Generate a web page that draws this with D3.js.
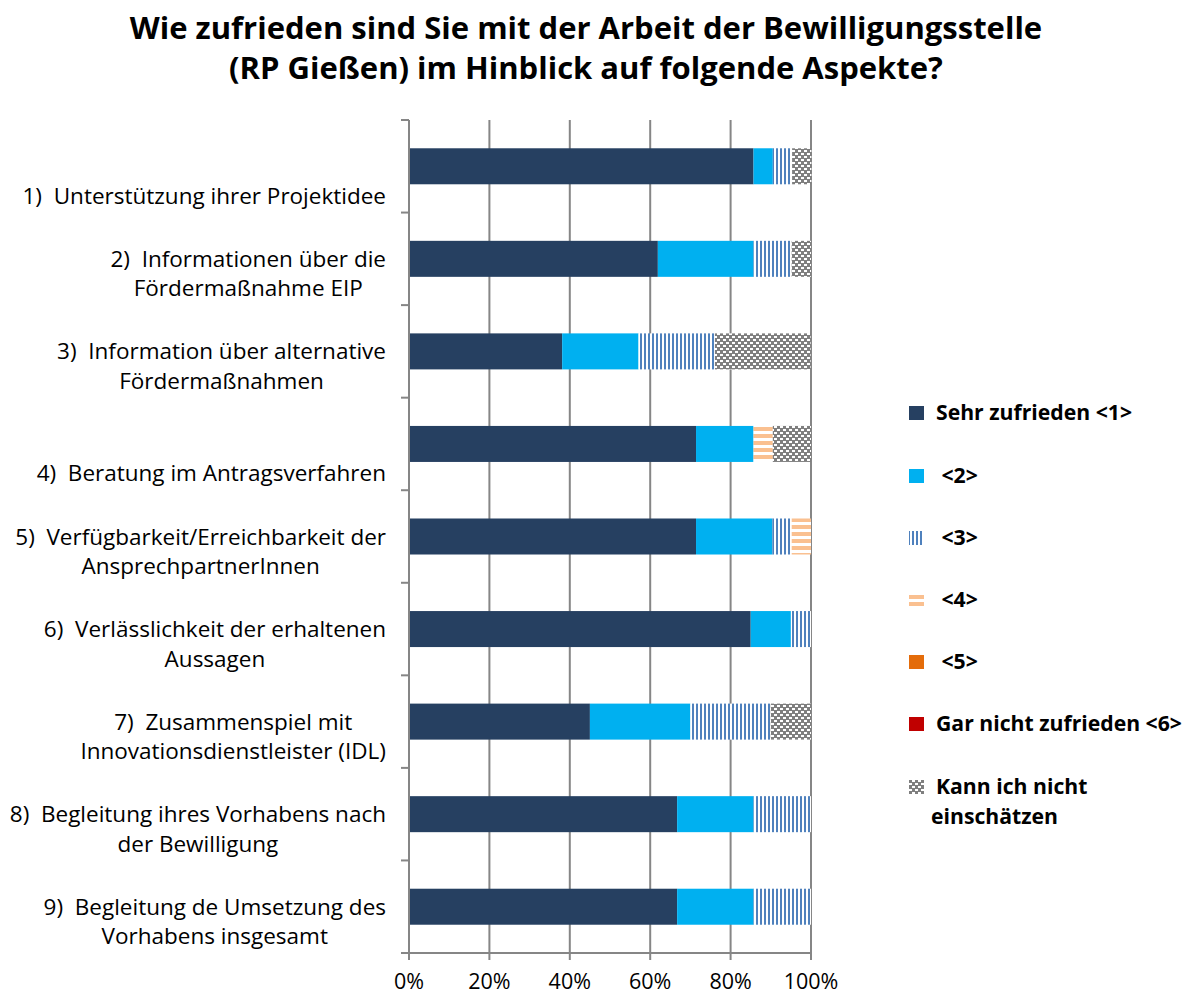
<!DOCTYPE html>
<html><head><meta charset="utf-8">
<script src="https://cdn.jsdelivr.net/npm/d3@7"></script>
<style>body{margin:0;background:#fff}svg{display:block}text{white-space:pre}</style>
</head><body>
<svg id="chart" width="1188" height="997"></svg>
<script>
const titleLines = ["Wie zufrieden sind Sie mit der Arbeit der Bewilligungsstelle", "(RP Gießen) im Hinblick auf folgende Aspekte?"];
const categories = [
  ["", "1)  Unterstützung ihrer Projektidee"],
  ["2)  Informationen über die", "Fördermaßnahme EIP"],
  ["3)  Information über alternative", "Fördermaßnahmen"],
  ["", "4)  Beratung im Antragsverfahren"],
  ["5)  Verfügbarkeit/Erreichbarkeit der", "AnsprechpartnerInnen"],
  ["6)  Verlässlichkeit der erhaltenen", "Aussagen"],
  ["7)  Zusammenspiel mit", "Innovationsdienstleister (IDL)"],
  ["8)  Begleitung ihres Vorhabens nach", "der Bewilligung"],
  ["9)  Begleitung de Umsetzung des", "Vorhabens insgesamt"]
];
const seriesNames = ["Sehr zufrieden <1>", " <2>", " <3>", " <4>", " <5>", "Gar nicht zufrieden <6>", "Kann ich nicht einschätzen"];
const s1 = [85.7, 61.9, 38.1, 71.4, 71.4, 85, 45, 66.7, 66.7];
const s2 = [4.8, 23.8, 19.0, 14.3, 19.0, 10, 25, 19.0, 19.0];
const s3 = [4.8, 9.5, 19.0, 0, 4.8, 5, 20, 14.3, 14.3];
const s4 = [0, 0, 0, 4.8, 4.8, 0, 0, 0, 0];
const s5 = [0, 0, 0, 0, 0, 0, 0, 0, 0];
const s6 = [0, 0, 0, 0, 0, 0, 0, 0, 0];
const s7 = [4.8, 4.8, 23.8, 9.5, 0, 0, 10, 0, 0];
const xTicks = [0, 20, 40, 60, 80, 100];

const seriesValues = [s1, s2, s3, s4, s5, s6, s7];
const fills = ["#264061", "#00B0F0", "url(#pV)", "url(#pH)", "#E46C0A", "#C00000", "url(#pG)"];

const svg = d3.select("#chart");
const FONT = "'Open Sans', Lato, sans-serif";
const L = 409, R = 811, T = 120, B = 953;

// patterns
const defs = svg.append("defs");
const pV = defs.append("pattern").attr("id", "pV").attr("patternUnits", "userSpaceOnUse").attr("width", 4).attr("height", 4);
pV.append("rect").attr("width", 4).attr("height", 4).attr("fill", "#fff");
pV.append("rect").attr("width", 2).attr("height", 4).attr("fill", "#4F81BD");
const pH = defs.append("pattern").attr("id", "pH").attr("patternUnits", "userSpaceOnUse").attr("width", 7).attr("height", 7);
pH.append("rect").attr("width", 7).attr("height", 7).attr("fill", "#fff");
pH.append("rect").attr("width", 7).attr("height", 4).attr("fill", "#FAC090");
const pG = defs.append("pattern").attr("id", "pG").attr("patternUnits", "userSpaceOnUse").attr("width", 6).attr("height", 6);
pG.append("rect").attr("width", 6).attr("height", 6).attr("fill", "#7F7F7F");
pG.append("rect").attr("x", 0).attr("y", 0).attr("width", 3).attr("height", 2).attr("fill", "#fff");
pG.append("rect").attr("x", 3).attr("y", 3).attr("width", 3).attr("height", 2).attr("fill", "#fff");

// title
svg.append("g").selectAll("text").data(titleLines).join("text")
  .attr("x", 586).attr("y", (d, i) => 39 + i * 40)
  .attr("text-anchor", "middle").attr("font-family", FONT).attr("font-weight", "bold")
  .attr("font-size", 31).attr("fill", "#000").text(d => d);

const x = d3.scaleLinear().domain([0, 100]).range([L, R]);
const y = d3.scaleBand().domain(d3.range(categories.length)).range([T, B]).paddingInner(0.611).paddingOuter(0.3055);
const step = (B - T) / categories.length;

// gridlines
const grid = svg.append("g");
grid.selectAll("line").data(xTicks.slice(1)).join("line")
  .attr("x1", d => x(d)).attr("x2", d => x(d)).attr("y1", T).attr("y2", B)
  .attr("stroke", "#868686").attr("stroke-width", 2);

// stacked bars
const table = categories.map((c, i) => {
  const o = {i};
  seriesValues.forEach((s, k) => o["s" + k] = s[i]);
  return o;
});
const keys = seriesValues.map((s, k) => "s" + k);
const stacked = d3.stack().keys(keys)(table);
svg.append("g").selectAll("g").data(stacked).join("g")
  .attr("fill", (d, k) => fills[k])
  .selectAll("rect").data(d => d).join("rect")
  .attr("x", d => x(d[0])).attr("width", d => Math.max(0, x(d[1]) - x(d[0])))
  .attr("y", d => y(d.data.i)).attr("height", y.bandwidth());

// left axis
const ax = svg.append("g").attr("stroke", "#868686").attr("stroke-width", 2);
ax.append("line").attr("x1", L).attr("x2", L).attr("y1", T).attr("y2", B);
ax.selectAll(".yt").data(d3.range(categories.length + 1)).join("line")
  .attr("x1", L - 8).attr("x2", L).attr("y1", i => T + i * step).attr("y2", i => T + i * step);
// bottom axis
ax.append("line").attr("x1", L - 8).attr("x2", R).attr("y1", B).attr("y2", B);
ax.selectAll(".xt").data(xTicks).join("line")
  .attr("x1", d => x(d)).attr("x2", d => x(d)).attr("y1", B).attr("y2", B + 7);

svg.append("g").selectAll("text").data(xTicks).join("text")
  .attr("x", d => x(d)).attr("y", 989).attr("text-anchor", "middle")
  .attr("font-family", FONT).attr("font-size", 21.5).attr("fill", "#000")
  .text(d => d + "%");

// category labels
const lab = svg.append("g").attr("font-family", FONT).attr("font-size", 22.5).attr("fill", "#000");
categories.forEach((lines, i) => {
  const cy = y(i) + y.bandwidth() / 2;
  const g = lab.append("g");
  const ts = g.selectAll("text").data(lines).join("text")
    .attr("y", (d, j) => cy + j * 29.5 + 8).attr("text-anchor", "middle").text(d => d);
  let w = 0; ts.each(function () { w = Math.max(w, this.getComputedTextLength()); });
  ts.attr("x", 386 - w / 2);
});

// legend
const legY = [413, 476, 538, 600, 662, 724, 787];
const leg = svg.append("g").attr("font-family", FONT).attr("font-weight", "bold").attr("font-size", 21.2).attr("fill", "#000");
seriesNames.forEach((n, k) => {
  leg.append("rect").attr("x", 909).attr("y", legY[k] - 7).attr("width", 15).attr("height", 14).attr("fill", fills[k]);
  if (k === 6) {
    leg.append("text").attr("x", 936).attr("y", legY[k] + 7).text("Kann ich nicht");
    leg.append("text").attr("x", 931).attr("y", legY[k] + 37).text("einschätzen");
  } else {
    leg.append("text").attr("x", 936).attr("y", legY[k] + 7).text(n);
  }
});
</script>
</body></html>
